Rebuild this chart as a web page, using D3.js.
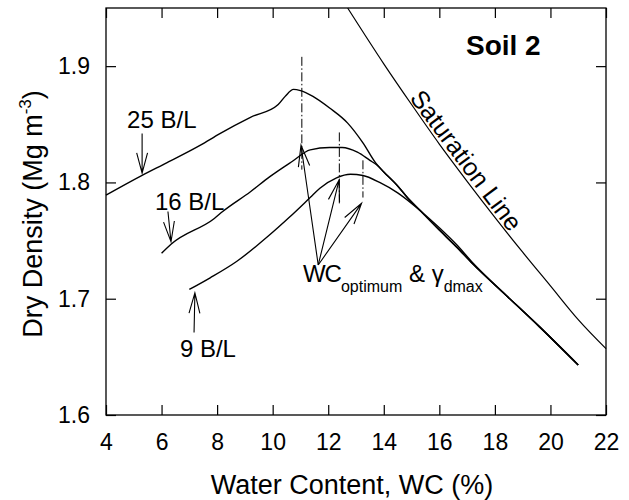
<!DOCTYPE html>
<html>
<head>
<meta charset="utf-8">
<script src="https://cdn.jsdelivr.net/npm/d3@7"></script>
<style>
  body { margin: 0; background: #fff; }
  svg { font-family: "Liberation Sans", Arial, sans-serif; }
</style>
</head>
<body>
<div id="chart"></div>
<script>
// ---- data ----
const xTicks = [4, 6, 8, 10, 12, 14, 16, 18, 20, 22];
const yTicks = [1.6, 1.7, 1.8, 1.9];

// 25 blows/layer
const wc25 = [4.0, 5.3, 6.2, 7.4, 8.1, 9.2, 10.2, 10.45, 10.75, 11.0, 11.45, 12.05, 12.7, 13.25, 13.7, 14.0, 14.5, 14.85, 15.3, 16.0, 16.6, 17.2, 18.4, 19.6, 21.0];
const gd25 = [1.789, 1.806, 1.817, 1.832, 1.842, 1.856, 1.867, 1.874, 1.880, 1.879, 1.874, 1.864, 1.851, 1.834, 1.817, 1.809, 1.797, 1.787, 1.776, 1.759, 1.745, 1.730, 1.703, 1.676, 1.643];
// 16 blows/layer
const wc16 = [6.0, 6.35, 7.9, 8.2, 9.2, 9.9, 10.7, 11.35, 12.05, 12.5, 13.05, 13.5, 13.75, 14.0, 14.5, 14.85, 15.3, 16.0, 16.6, 17.2, 18.4, 19.6, 21.0];
const gd16 = [1.739, 1.747, 1.769, 1.775, 1.792, 1.805, 1.818, 1.828, 1.830, 1.830, 1.826, 1.819, 1.815, 1.809, 1.797, 1.787, 1.776, 1.759, 1.745, 1.730, 1.703, 1.676, 1.643];
// 9 blows/layer
const wc9 = [7.0, 7.75, 8.7, 9.8, 10.6, 11.35, 11.7, 12.3, 12.8, 13.25, 13.85, 14.5, 15.0, 15.4, 16.0, 16.6, 17.2, 18.4, 19.6, 21.0];
const gd9 = [1.708, 1.718, 1.732, 1.753, 1.770, 1.787, 1.795, 1.804, 1.807, 1.806, 1.800, 1.791, 1.782, 1.774, 1.761, 1.747, 1.731, 1.703, 1.676, 1.643];
// saturation line
const satWC = [12.7, 14, 15, 16, 17, 18, 19, 20, 21, 22];
const satGD = [1.950, 1.902, 1.867, 1.833, 1.801, 1.770, 1.740, 1.711, 1.682, 1.657];

// optimum markers (dash-dot verticals) and arrows
const optWC = [11.05, 12.4, 13.25];
const optTop = [1.908, 1.843, 1.819];
const optBottom = [1.811, 1.782, 1.787];
const optArrowFrom = [11.64, 1.729];
const optArrowWC = [11.02, 12.39, 13.2];
const optArrowGD = [1.832, 1.802, 1.782];

// blow labels
const blowLabels = ["25 B/L", "16 B/L", "9 B/L"];
const blowLabelWC = [4.76, 5.76, 6.66];
const blowLabelGD = [1.847, 1.776, 1.650];
const blowArrowTail = [[5.3, 1.842], [6.23, 1.775], [7.17, 1.671]];
const blowArrowTip = [[5.3, 1.808], [6.34, 1.749], [7.2, 1.705]];

// ---- layout ----
const W = 629, H = 500;
const margin = { top: 8, right: 23, bottom: 85, left: 106 };

const svg = d3.select("#chart").append("svg")
  .attr("width", W).attr("height", H);

const x = d3.scaleLinear().domain([4, 22]).range([margin.left, W - margin.right]);
const y = d3.scaleLinear().domain([1.6, 1.95]).range([H - margin.bottom, margin.top]);

// axes, ticks pointing inward on all four sides
const styleAxis = g => {
  g.select(".domain").remove();
  g.attr("font-family", null).attr("font-size", 23);
  g.selectAll("line").attr("stroke", "#000").attr("stroke-width", 1.2);
  g.selectAll("text").attr("fill", "#000");
};

svg.append("g")
  .attr("transform", `translate(0,${y(1.6)})`)
  .call(d3.axisBottom(x).tickValues(xTicks).tickSizeInner(-10).tickSizeOuter(0)
    .tickPadding(19).tickFormat(d3.format("d")))
  .call(styleAxis);

svg.append("g")
  .attr("transform", `translate(0,${y(1.95)})`)
  .call(d3.axisTop(x).tickValues(xTicks).tickSizeInner(-10).tickSizeOuter(0).tickFormat(""))
  .call(styleAxis);

svg.append("g")
  .attr("transform", `translate(${x(4)},0)`)
  .call(d3.axisLeft(y).tickValues(yTicks).tickSizeInner(-10).tickSizeOuter(0)
    .tickPadding(16).tickFormat(d3.format(".1f")))
  .call(styleAxis);

svg.append("g")
  .attr("transform", `translate(${x(22)},0)`)
  .call(d3.axisRight(y).tickValues(yTicks).tickSizeInner(-10).tickSizeOuter(0).tickFormat(""))
  .call(styleAxis);

// frame
svg.append("rect")
  .attr("x", x(4)).attr("y", y(1.95))
  .attr("width", x(22) - x(4)).attr("height", y(1.6) - y(1.95))
  .attr("fill", "none").attr("stroke", "#000").attr("stroke-width", 1.3);

// axis titles
svg.append("text")
  .attr("x", 352).attr("y", 494)
  .attr("text-anchor", "middle").attr("font-size", 27)
  .text("Water Content, WC (%)");

const yTitle = svg.append("text")
  .attr("transform", "translate(42,214) rotate(-90)")
  .attr("text-anchor", "middle").attr("font-size", 27);
yTitle.append("tspan").text("Dry Density (Mg m");
yTitle.append("tspan").attr("font-size", 17).attr("dy", -11).text("-3");
yTitle.append("tspan").attr("dy", 11).text(")");

// curves
const line = d3.line()
  .x(d => x(d[0])).y(d => y(d[1]))
  .curve(d3.curveMonotoneX);

const curves = [
  d3.zip(wc25, gd25),
  d3.zip(wc16, gd16),
  d3.zip(wc9, gd9)
];

svg.append("g").selectAll("path")
  .data(curves)
  .join("path")
  .attr("d", line)
  .attr("fill", "none").attr("stroke", "#000").attr("stroke-width", 1.4);

// saturation line
const satPts = d3.zip(satWC, satGD);
svg.append("path")
  .attr("d", line(satPts))
  .attr("fill", "none").attr("stroke", "#000").attr("stroke-width", 1.2);

// label along the saturation line
const ang = Math.atan2(y(satGD[4]) - y(satGD[3]), x(satWC[4]) - x(satWC[3])) * 180 / Math.PI;
svg.append("text")
  .attr("transform", `translate(${x(16.63)},${y(1.813)}) rotate(${ang})`)
  .attr("text-anchor", "middle").attr("dy", -3)
  .attr("font-size", 25)
  .text("Saturation Line");

// dash-dot verticals at optimum
svg.append("g").selectAll("line")
  .data(optWC)
  .join("line")
  .attr("x1", d => x(d)).attr("x2", d => x(d))
  .attr("y1", (d, i) => y(optTop[i])).attr("y2", (d, i) => y(optBottom[i]))
  .attr("stroke", "#000").attr("stroke-width", 1)
  .attr("stroke-dasharray", "9,2.5,1.5,2.5");

// open-V arrow helper (pixel coords)
function arrow(g, tail, tip, len = 22, spread = 15) {
  const a = Math.atan2(tail[1] - tip[1], tail[0] - tip[0]);
  const s = spread * Math.PI / 180;
  const p = `M${tail[0]},${tail[1]}L${tip[0]},${tip[1]}` +
    `M${tip[0] + len * Math.cos(a - s)},${tip[1] + len * Math.sin(a - s)}L${tip[0]},${tip[1]}` +
    `L${tip[0] + len * Math.cos(a + s)},${tip[1] + len * Math.sin(a + s)}`;
  g.append("path").attr("d", p)
    .attr("fill", "none").attr("stroke", "#000").attr("stroke-width", 1.1);
}

const ann = svg.append("g");
optArrowWC.forEach((wc, i) => {
  arrow(ann, [x(optArrowFrom[0]), y(optArrowFrom[1])], [x(wc), y(optArrowGD[i])]);
});
blowArrowTail.forEach((t, i) => {
  const tp = blowArrowTip[i];
  arrow(ann, [x(t[0]), y(t[1])], [x(tp[0]), y(tp[1])], 21, 15);
});

// blow labels
svg.append("g").selectAll("text")
  .data(blowLabels)
  .join("text")
  .attr("x", (d, i) => x(blowLabelWC[i]))
  .attr("y", (d, i) => y(blowLabelGD[i]))
  .attr("font-size", 24)
  .text(d => d);

// WC_optimum & gamma_dmax
const optLabel = svg.append("text")
  .attr("x", x(11.09)).attr("y", y(1.714))
  .attr("font-size", 24);
optLabel.append("tspan").attr("letter-spacing", -1).text("WC");
optLabel.append("tspan").attr("font-size", 16).attr("dy", 10).text("optimum");
optLabel.append("tspan").attr("dy", -10).text(" & γ");
optLabel.append("tspan").attr("font-size", 16).attr("dy", 10).text("dmax");

// panel title
svg.append("text")
  .attr("x", x(16.96)).attr("y", y(1.91))
  .attr("font-size", 28).attr("font-weight", "bold")
  .text("Soil 2");
</script>
</body>
</html>
